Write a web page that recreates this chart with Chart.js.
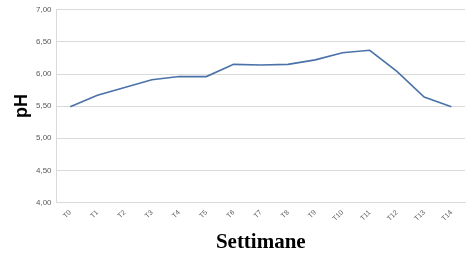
<!DOCTYPE html>
<html>
<head>
<meta charset="utf-8">
<script src="https://cdn.jsdelivr.net/npm/chart.js@4"></script>
<style>
  html, body { margin: 0; padding: 0; background: #fff; }
  #wrap { width: 474px; height: 259px; position: relative; }
</style>
</head>
<body>
<div id="wrap"><canvas id="c"></canvas></div>
<script>
// weeks T0..T14 and measured pH
const weeks = ['T0', 'T1', 'T2', 'T3', 'T4', 'T5', 'T6', 'T7', 'T8', 'T9', 'T10', 'T11', 'T12', 'T13', 'T14'];
const phValues = [5.49, 5.67, 5.79, 5.91, 5.96, 5.96, 6.15, 6.14, 6.15, 6.22, 6.33, 6.37, 6.04, 5.64, 5.49];

const ctx = document.getElementById('c').getContext('2d');

new Chart(ctx, {
    type: 'line',
    data: {
        labels: weeks,
        datasets: [{
            data: phValues,
            borderColor: '#4a72a8',
            borderWidth: 1.6,
            pointRadius: 0,
            tension: 0,
            fill: false
        }]
    },
    options: {
        responsive: true,
        maintainAspectRatio: false,
        animation: false,
        layout: { padding: { top: 5, right: 9, bottom: 5, left: 13 } },
        scales: {
            x: {
                offset: true,
                grid: { display: false, drawTicks: false },
                border: { color: '#d9d9d9' },
                ticks: {
                    color: '#595959',
                    font: { family: 'Liberation Sans', size: 7 },
                    maxRotation: 45, minRotation: 45,
                    padding: 6
                },
                title: {
                    display: true,
                    text: 'Settimane',
                    color: '#000',
                    font: { family: 'Liberation Serif', size: 21, weight: 'bold', lineHeight: 1.1 },
                    padding: { top: 2, bottom: 0 }
                }
            },
            y: {
                min: 4, max: 7,
                grid: { color: '#d9d9d9', drawTicks: false },
                border: { color: '#d9d9d9' },
                ticks: {
                    stepSize: 0.5,
                    color: '#595959',
                    font: { family: 'Liberation Sans', size: 8 },
                    padding: 5,
                    callback: v => v.toFixed(2).replace('.', ',')
                },
                title: {
                    display: true,
                    text: 'pH',
                    color: '#000',
                    font: { family: 'Liberation Sans', size: 18, weight: 'bold', lineHeight: 1 },
                    padding: { top: 0, bottom: 0 }
                }
            }
        },
        plugins: {
            legend: { display: false },
            tooltip: { enabled: false }
        }
    }
});
</script>
</body>
</html>
